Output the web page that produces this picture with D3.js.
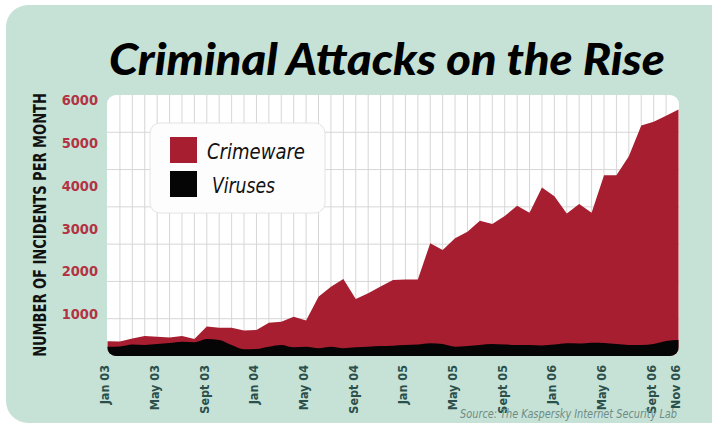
<!DOCTYPE html>
<html><head><meta charset="utf-8">
<script src="https://cdn.jsdelivr.net/npm/d3@7"></script>
<style>
html,body{margin:0;padding:0;background:#fff;}
svg{display:block;}
</style></head>
<body>
<svg id="chart" width="712" height="427"></svg>
<script>
// ---- data ----
const months = ["Jan 03","Feb 03","Mar 03","Apr 03","May 03","Jun 03","Jul 03","Aug 03","Sept 03","Oct 03","Nov 03","Dec 03",
  "Jan 04","Feb 04","Mar 04","Apr 04","May 04","Jun 04","Jul 04","Aug 04","Sept 04","Oct 04","Nov 04","Dec 04",
  "Jan 05","Feb 05","Mar 05","Apr 05","May 05","Jun 05","Jul 05","Aug 05","Sept 05","Oct 05","Nov 05","Dec 05",
  "Jan 06","Feb 06","Mar 06","Apr 06","May 06","Jun 06","Jul 06","Aug 06","Sept 06","Oct 06","Nov 06"];
const crimeware = [370,360,430,490,470,455,490,420,710,680,680,620,630,800,825,940,850,1405,1640,1820,1355,1490,1645,1795,
  1810,1810,2655,2500,2770,2925,3180,3105,3290,3530,3370,3960,3755,3350,3570,3370,4245,4245,4685,5405,5490,5635,5780];
const viruses = [240,245,290,280,303,327,357,343,420,397,280,180,187,240,280,226,240,203,240,203,226,240,257,264,
  280,290,320,303,240,257,280,303,292,280,280,268,290,320,315,334,327,303,280,280,303,373,397];
const tickLabels = ["Jan 03","May 03","Sept 03","Jan 04","May 04","Sept 04","Jan 05","May 05","Sept 05","Jan 06","May 06","Sept 06","Nov 06"];
const yTicks = [1000,2000,3000,4000,5000,6000];
const seriesNames = ["Crimeware","Viruses"];

// ---- layout ----
const svg = d3.select("#chart");
const P = {left:107, right:679, top:95, bottom:356};
const RED = "#a71e31";
const COND = "'DejaVu Sans Condensed','Liberation Sans Narrow',sans-serif";

function fitText(parent, txt, x, y, width, style, anchor, rotate) {
  const gg = parent.append("g");
  const t = gg.append("text").attr("x",0).attr("y",0).text(txt);
  Object.entries(style).forEach(([k,v])=>t.style(k,v));
  const w = t.node().getComputedTextLength();
  const s = width / w;
  t.attr("text-anchor", anchor || "start");
  gg.attr("transform", `translate(${x},${y})` + (rotate ? ` rotate(${rotate})` : "") + ` scale(${s},1)`);
  return t;
}

svg.append("rect").attr("x",6).attr("y",5).attr("width",740).attr("height",418).attr("rx",22).attr("fill","#c6e2d6");

const x = d3.scaleLinear().domain([0, months.length-1]).range([107.5, 678.5]);
const y = d3.scaleLinear().domain([0, 6000]).range([357, 100]);

svg.append("defs").append("clipPath").attr("id","pclip").append("rect")
  .attr("x",P.left).attr("y",P.top).attr("width",P.right-P.left).attr("height",P.bottom-P.top).attr("rx",9);
svg.append("rect").attr("x",P.left).attr("y",P.top).attr("width",P.right-P.left).attr("height",P.bottom-P.top)
  .attr("rx",9).attr("fill","#ffffff");

const g = svg.append("g").attr("clip-path","url(#pclip)");
g.selectAll("line.vg").data(months.slice(1,-1)).join("line").attr("class","vg")
  .attr("x1",(d,i)=>x(i+1)).attr("x2",(d,i)=>x(i+1)).attr("y1",P.top).attr("y2",P.bottom)
  .attr("stroke","#d6d6d6").attr("stroke-width",1);
const gy = d3.scaleLinear().domain([0,7]).range([P.bottom, P.top]);
g.selectAll("line.hg").data(d3.range(1,7)).join("line").attr("class","hg")
  .attr("x1",P.left).attr("x2",P.right).attr("y1",d=>gy(d)).attr("y2",d=>gy(d))
  .attr("stroke","#d6d6d6").attr("stroke-width",1);

const areaC = d3.area().x((d,i)=>x(i)).y0(y(-200)).y1(d=>y(d)).curve(d3.curveLinear);
const areaV = d3.area().x((d,i)=>x(i)).y0(y(-200)).y1(d=>y(d)).curve(d3.curveMonotoneX);
g.append("path").datum(crimeware).attr("d",areaC).attr("fill",RED);
g.append("path").datum(viruses).attr("d",areaV).attr("fill","#050505");

const tickIdx = tickLabels.map(l=>months.indexOf(l));
const xAxis = d3.axisBottom(x).tickValues(tickIdx).tickFormat((d,i)=>tickLabels[i]).tickSize(0);
const xg = svg.append("g").attr("transform",`translate(0,${P.bottom})`).call(xAxis);
xg.select(".domain").remove();
xg.selectAll("text").attr("transform","rotate(-90)").attr("text-anchor","end")
  .attr("x",-9).attr("y",-3).attr("dy","0.35em")
  .style("font-family",COND).style("font-size","12.5px").style("font-weight","600").attr("fill","#2b4f4b");

const yAxis = d3.axisLeft(y).tickValues(yTicks).tickFormat(d3.format("d")).tickSize(0).tickPadding(9);
const yg = svg.append("g").attr("transform",`translate(${P.left},0)`).call(yAxis);
yg.select(".domain").remove();
yg.selectAll("text").style("font-family",COND)
  .style("font-size","14.5px").style("font-weight","bold").attr("fill","#b23344");

fitText(svg, "NUMBER OF INCIDENTS PER MONTH", 46, 225, 264,
  {"font-family":COND, "font-size":"18px", "font-weight":"600", "fill":"#111"}, "middle", -90);

fitText(svg, "Criminal Attacks on the Rise", 109, 75, 556,
  {"font-family":"Lato,'DejaVu Sans',sans-serif", "font-size":"44px", "font-weight":"900", "font-style":"italic", "fill":"#000"}, "start");

const lg = svg.append("g");
lg.append("rect").attr("x",150).attr("y",123).attr("width",175).attr("height",90).attr("rx",10)
  .attr("fill","#fdfdfd").attr("stroke","#e4e4e4").attr("stroke-width",1);
const legColors = [RED,"#050505"];
const legY = [137,171];
const legTx = [207,212];
const legW = [98,63];
seriesNames.forEach((n,i)=>{
  lg.append("rect").attr("x",170).attr("y",legY[i]).attr("width",27).attr("height",26).attr("fill",legColors[i]);
  fitText(lg, n, legTx[i], legY[i]+22, legW[i],
    {"font-family":COND, "font-size":"21px", "font-style":"italic", "fill":"#111"}, "start");
});

fitText(svg, "Source: The Kaspersky Internet Security Lab", 677, 418, 217,
  {"font-family":COND, "font-size":"13px", "font-style":"italic", "fill":"#6f8c87"}, "end");
</script>
</body></html>
